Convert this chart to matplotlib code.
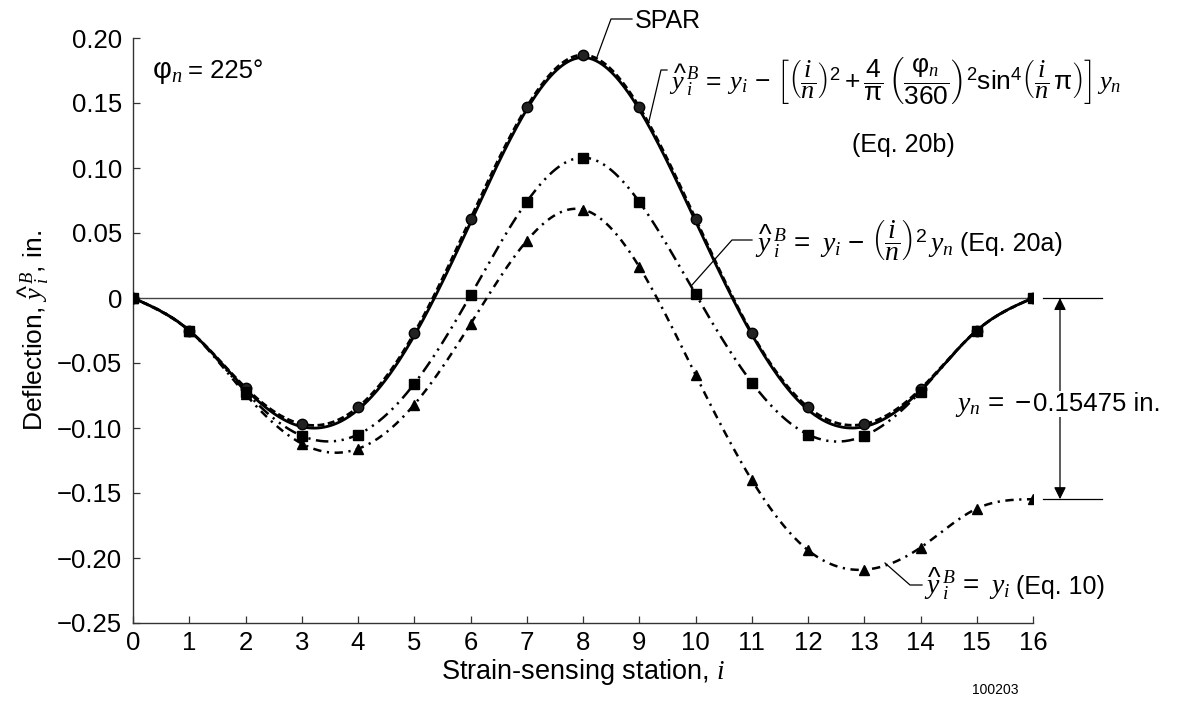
import numpy as np
import matplotlib
matplotlib.use("Agg")
import matplotlib.pyplot as plt
from matplotlib.lines import Line2D

plt.rcParams['font.family'] = ['Liberation Sans', 'DejaVu Sans']
plt.rcParams['mathtext.fontset'] = 'custom'
plt.rcParams['mathtext.rm'] = 'Liberation Sans'
plt.rcParams['mathtext.sf'] = 'Liberation Sans'
plt.rcParams['mathtext.it'] = 'Liberation Serif:italic'
plt.rcParams['mathtext.bf'] = 'Liberation Sans:bold'
plt.rcParams['lines.scale_dashes'] = False

# ---- data ----
stations = list(range(17))
spar = [0.000, -0.025, -0.069, -0.097, -0.084, -0.027, 0.061, 0.147, 0.187,
        0.147, 0.061, -0.027, -0.084, -0.097, -0.070, -0.025, 0.000]
eq20b = [0.000, -0.025, -0.070, -0.099, -0.086, -0.029, 0.058, 0.145, 0.185,
         0.145, 0.059, -0.028, -0.086, -0.099, -0.071, -0.025, 0.000]
eq20a = [0.000, -0.025, -0.072, -0.106, -0.105, -0.066, 0.002, 0.074, 0.108,
         0.074, 0.003, -0.065, -0.105, -0.106, -0.072, -0.025, 0.000]
eq10 = [0.000, -0.025, -0.074, -0.112, -0.116, -0.082, -0.020, 0.044, 0.068,
        0.024, -0.059, -0.140, -0.194, -0.209, -0.192, -0.162, -0.15475]
y_n = -0.15475
xticks = list(range(17))
yticks = [0.20, 0.15, 0.10, 0.05, 0.0, -0.05, -0.10, -0.15, -0.20, -0.25]
ytick_labels = ['0.20', '0.15', '0.10', '0.05', '0', '\u22120.05', '\u22120.10',
                '\u22120.15', '\u22120.20', '\u22120.25']


def smooth(x, y, n=600):
    """natural cubic spline through the data points (display only)"""
    x = np.asarray(x, float)
    y = np.asarray(y, float)
    m = len(x)
    h = np.diff(x)
    A = np.zeros((m, m))
    b = np.zeros(m)
    A[0, 0] = A[-1, -1] = 1
    for k in range(1, m - 1):
        A[k, k - 1] = h[k - 1]
        A[k, k] = 2 * (h[k - 1] + h[k])
        A[k, k + 1] = h[k]
        b[k] = 6 * ((y[k + 1] - y[k]) / h[k] - (y[k] - y[k - 1]) / h[k - 1])
    M = np.linalg.solve(A, b)
    xs = np.linspace(x[0], x[-1], n)
    idx = np.clip(np.searchsorted(x, xs) - 1, 0, m - 2)
    x0, x1 = x[idx], x[idx + 1]
    hh = x1 - x0
    t0, t1 = x1 - xs, xs - x0
    ys = (M[idx] * t0 ** 3 + M[idx + 1] * t1 ** 3) / (6 * hh) \
        + (y[idx] / hh - M[idx] * hh / 6) * t0 + (y[idx + 1] / hh - M[idx + 1] * hh / 6) * t1
    return xs, ys


W, H = 1178, 701
fig = plt.figure(figsize=(W / 100, H / 100), dpi=100)
ax = fig.add_axes([133 / W, 1 - 623 / H, 900 / W, 585 / H])
ax.set_xlim(0, 16)
ax.set_ylim(-0.25, 0.20)


def P(x, y):
    return (x / W, 1 - y / H)


FS = 18
FM = 20

ax.axhline(0, color='#444444', lw=1.0, zorder=1)

xs, ys = smooth(stations, eq20b)
ax.plot(xs, ys, color='black', lw=2.0, zorder=3)
xs, ys = smooth(stations, spar)
ax.plot(xs, ys, color='black', lw=2.0, ls=(0, (5, 2.5)), zorder=3)
xs, ys = smooth(stations, eq20a)
ax.plot(xs, ys, color='black', lw=1.8, ls=(0, (9, 4, 1.6, 4, 1.6, 4)), zorder=3)
xs, ys = smooth(stations, eq10)
ax.plot(xs, ys, color='black', lw=1.8, ls=(0, (6, 4, 1.6, 4)), zorder=3)

ax.plot(stations, spar, 'o', color='black', ms=7.5, mfc='#222222', zorder=4)
ax.plot(stations, eq20a, 's', color='black', ms=7, zorder=5)
ax.plot(stations, eq10, '^', color='black', ms=6.5, zorder=5)

for s in ['top', 'right']:
    ax.spines[s].set_visible(False)
for s in ['left', 'bottom']:
    ax.spines[s].set_linewidth(1.0)
    ax.spines[s].set_color('#333333')
ax.set_xticks(xticks)
ax.set_xticklabels([str(v) for v in xticks])
ax.set_yticks(yticks)
ax.set_yticklabels(ytick_labels)
ax.tick_params(direction='in', length=5, width=0.9, labelsize=18.5, color='#333333')
ax.tick_params(axis='y', pad=8)
ax.tick_params(axis='x', pad=6)

ax.set_xlabel(r'Strain-sensing station, $i$', fontsize=19.5, labelpad=1)
ax.set_ylabel(r'Deflection, $\widehat{y}\,^B_i$, in.', fontsize=19, labelpad=4)

renderer = fig.canvas.get_renderer()


def leader(pts):
    xs_ = [p[0] / W for p in pts]
    ys_ = [1 - p[1] / H for p in pts]
    fig.add_artist(Line2D(xs_, ys_, color='black', lw=0.9))


def math_text(x, y, math, text=None, fm=FM, ft=FS, gap=6):
    t = fig.text(*P(x, y), math, fontsize=fm, va='baseline', ha='left')
    if text:
        bb = t.get_window_extent(renderer)
        fig.text((bb.x1 + gap) / W, 1 - y / H, text, fontsize=ft, va='baseline', ha='left')
    return t


# phi_n annotation
math_text(152, 78, r'$\mathrm{\varphi}_n$', r'= 225°', fm=21, ft=18.5, gap=6)

# SPAR leader
leader([(597, 57), (611, 19), (632, 19)])
fig.text(*P(635, 28), 'SPAR', fontsize=FS, va='baseline', ha='left')

# Eq 20b
leader([(649, 121), (661, 70), (667, 70)])
math_text(669, 89,
          r'$\widehat{y}\,^B_i\, =\; y_i\, -\, \left[\left(\dfrac{i}{n}\right)^2 + \dfrac{4}{\mathrm{\pi}}\,'
          r'\left(\dfrac{\mathrm{\varphi}_n}{360}\right)^2 \mathrm{sin}^4\left(\dfrac{i}{n}\,\mathrm{\pi}\right)\right]\, y_n$',
          fm=19)
fig.text(*P(903, 152), '(Eq. 20b)', fontsize=FS, va='baseline', ha='center')

# Eq 20a
leader([(692, 285), (732, 240), (752, 240)])
math_text(755, 251, r'$\widehat{y}\,^B_i\, =\;\, y_i\, -\, \left(\dfrac{i}{n}\right)^2\,y_n$', '(Eq. 20a)')

# Eq 10
leader([(885, 563), (910, 585), (922, 585)])
math_text(924, 594, r'$\widehat{y}\,^B_i\, =\;\, y_i$', '(Eq. 10)')

# y_n dimension
for yy in [0.0, y_n]:
    ax.plot([16.18, 17.23], [yy, yy], color='black', lw=0.9, clip_on=False)
ax.annotate('', xy=(16.48, 0.0), xytext=(16.48, y_n),
            arrowprops=dict(arrowstyle='<|-|>', color='black', lw=0.9,
                            mutation_scale=18, shrinkA=0, shrinkB=0),
            annotation_clip=False)
tn = fig.text(*P(955, 411), r'$y_n\, =\, -$', fontsize=FM, va='baseline', ha='left',
              bbox=dict(facecolor='white', edgecolor='none', pad=1.0), zorder=7)
bb = tn.get_window_extent(renderer)
fig.text((bb.x1 + 1) / W, 1 - 411 / H, '0.15475 in.', fontsize=18.5, va='baseline', ha='left',
         bbox=dict(facecolor='white', edgecolor='none', pad=1.0), zorder=7)

fig.text(*P(995, 690), '100203', fontsize=10, ha='center', va='center')

fig.savefig('out.png', dpi=100)
